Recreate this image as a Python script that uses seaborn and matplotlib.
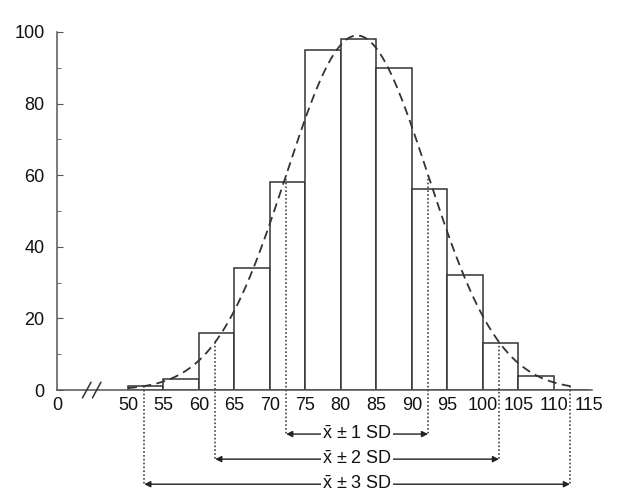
import numpy as np
import pandas as pd
import matplotlib
matplotlib.use("Agg")
import matplotlib.pyplot as plt
import seaborn as sns

# histogram data
bin_left = [50, 55, 60, 65, 70, 75, 80, 85, 90, 95, 100, 105, 110]
counts = [1, 3, 16, 34, 58, 95, 98, 90, 56, 32, 13, 4, 0]
bin_edges = [50, 55, 60, 65, 70, 75, 80, 85, 90, 95, 100, 105, 110, 115]

# fitted normal curve
mean = 82.3
sd = 10.0
peak = 99

x_ticks = [40, 50, 55, 60, 65, 70, 75, 80, 85, 90, 95, 100, 105, 110, 115]
x_labels = ["0", "50", "55", "60", "65", "70", "75", "80", "85", "90", "95",
            "100", "105", "110", "115"]

sns.set_style("ticks")
plt.rcParams['font.family'] = ['Liberation Sans', 'DejaVu Sans']
plt.rcParams['mathtext.fontset'] = 'custom'
plt.rcParams['mathtext.rm'] = 'Liberation Sans'

fig = plt.figure(figsize=(6.24, 4.99), dpi=100)
ax = fig.add_axes([0.0913, 0.2184, 0.8574, 0.7176])

df = pd.DataFrame({'x': bin_left, 'n': counts})
sns.histplot(data=df, x='x', weights='n', bins=bin_edges, ax=ax,
             color='white', edgecolor='#333333', linewidth=1.1, alpha=1)

# normal curve
xs = np.linspace(50, 113, 300)
ys = peak * np.exp(-0.5 * ((xs - mean) / sd) ** 2)
sns.lineplot(x=xs, y=ys, ax=ax, color='#333333', linewidth=1.3,
             linestyle=(0, (5, 3)))

# SD guide lines and arrows
arrow_y = [-12.3, -19.3, -26.3]
for k, yk in zip([1, 2, 3], arrow_y):
    for side in (-1, 1):
        xv = mean + side * k * sd
        top = peak * np.exp(-0.5 * k ** 2)
        ax.plot([xv, xv], [top, yk], color='#444444', linestyle=(0, (1, 1.3)),
                linewidth=1.2, clip_on=False, zorder=3)
    for side in (-1, 1):
        ax.annotate("", xy=(mean + side * k * sd, yk), xytext=(mean, yk),
                    arrowprops=dict(arrowstyle='-|>', color='#222222', lw=1,
                                    mutation_scale=9, shrinkA=0, shrinkB=0),
                    annotation_clip=False)
    ax.text(mean, yk, r"$\bar{\mathrm{x}}$ $\pm$ %d SD" % k, ha='center',
            va='center', fontsize=13, color='#111111', zorder=5,
            bbox=dict(facecolor='white', edgecolor='none', pad=0.8))

# axis break marks
for xb in (44.2, 45.6):
    ax.plot([xb - 0.6, xb + 0.6], [-2.2, 2.2], color='#333333', lw=1.1,
            clip_on=False, zorder=5)

ax.set_xlim(40, 115.4)
ax.set_ylim(0, 100)
ax.set_xticks(x_ticks)
ax.set_xticklabels(x_labels)
ax.set_yticks([0, 20, 40, 60, 80, 100])
ax.set_yticks([10, 30, 50, 70, 90], minor=True)
ax.tick_params(axis='both', which='both', direction='in', labelsize=13,
               color='#555555', length=4, labelcolor='#111111')
ax.tick_params(axis='x', length=0, pad=5)
ax.tick_params(axis='y', which='major', pad=9)
ax.tick_params(axis='y', which='minor', length=3)
ax.set_xlabel("")
ax.set_ylabel("")
for s in ('top', 'right'):
    ax.spines[s].set_visible(False)
for s in ('left', 'bottom'):
    ax.spines[s].set_color('#555555')
    ax.spines[s].set_linewidth(1.1)

fig.savefig("out.png", dpi=100)
